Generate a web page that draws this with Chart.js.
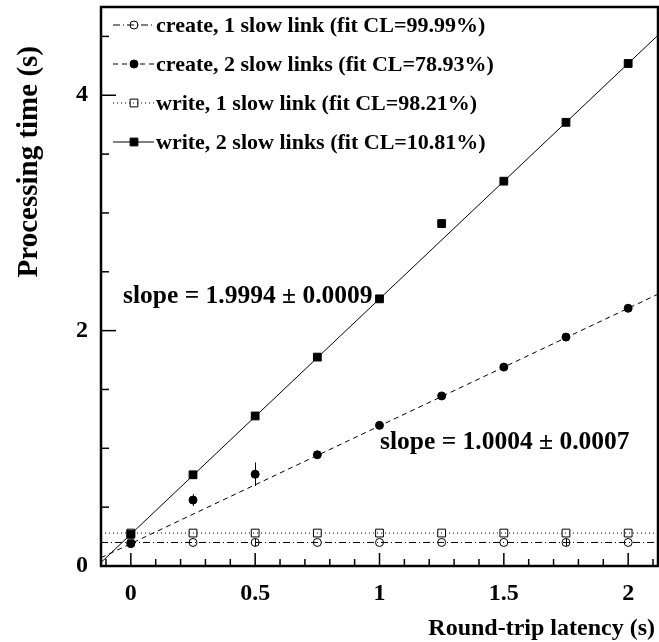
<!DOCTYPE html>
<html>
<head>
<meta charset="utf-8">
<script src="https://cdn.jsdelivr.net/npm/chart.js@4.4.0/dist/chart.umd.min.js"></script>
<style>
  html, body { margin: 0; padding: 0; background: #fff; }
  #wrap { width: 659px; height: 642px; }
</style>
</head>
<body>
<div id="wrap"><canvas id="c"></canvas></div>
<script>
// round-trip latency (s)
const latency = [0, 0.25, 0.5, 0.75, 1.0, 1.25, 1.5, 1.75, 2.0];

// processing time (s) for each setup
const create1 = [0.20, 0.20, 0.20, 0.20, 0.20, 0.20, 0.20, 0.20, 0.20];
const create2 = [0.19, 0.56, 0.78, 0.945, 1.195, 1.445, 1.69, 1.945, 2.19];
const write1  = [0.28, 0.28, 0.28, 0.28, 0.28, 0.28, 0.28, 0.28, 0.28];
const write2  = [0.27, 0.775, 1.275, 1.775, 2.27, 2.91, 3.27, 3.77, 4.27];

// error bars (half length, s)
const create1Err = [0, 0, 0.03, 0, 0, 0, 0, 0.03, 0];
const create2Err = [0, 0.05, 0.1, 0, 0, 0, 0, 0, 0];
const write1Err  = [0, 0, 0, 0, 0, 0, 0, 0, 0];
const write2Err  = [0, 0, 0, 0, 0, 0.04, 0, 0, 0];

// fit lines, end points
const fitX       = [-0.12, 2.12];
const fitCreate1 = [0.20, 0.20];
const fitCreate2 = [0.07, 2.31];
const fitWrite1  = [0.28, 0.28];
const fitWrite2  = [0.03, 4.51];

const legendLabels = [
  'create, 1 slow link (fit CL=99.99%)',
  'create, 2 slow links (fit CL=78.93%)',
  'write, 1 slow link (fit CL=98.21%)',
  'write, 2 slow links (fit CL=10.81%)'
];
const slopeTexts = ['slope = 1.9994 \u00b1 0.0009', 'slope = 1.0004 \u00b1 0.0007'];

const xTicks = [0, 0.5, 1, 1.5, 2];
const yTicks = [0, 2, 4];

const FONT = '"Liberation Serif", "Times New Roman", serif';

function pts(xs, ys) { return xs.map((x, i) => ({ x: x, y: ys[i] })); }

const dashes = {
  create1: [7, 3, 1, 3],
  create2: [5, 4],
  write1: [1, 3],
  write2: []
};

const errs = [create1Err, create2Err, write1Err, write2Err];

function marker(ctx, style, r, fill, x, y) {
  ctx.fillStyle = fill;
  ctx.strokeStyle = '#000';
  ctx.lineWidth = 1;
  ctx.beginPath();
  if (style === 'circle') {
    ctx.arc(x, y, r, 0, Math.PI * 2);
  } else {
    const s = r * Math.SQRT1_2;
    ctx.rect(x - s, y - s, 2 * s, 2 * s);
  }
  ctx.fill();
  ctx.stroke();
}

const overlay = {
  id: 'overlay',
  afterDatasetsDraw(chart) {
    const ctx = chart.ctx;
    const xs = chart.scales.x, ys = chart.scales.y;
    const a = chart.chartArea;
    ctx.save();
    // error bars
    ctx.strokeStyle = '#000';
    ctx.lineWidth = 1;
    [0, 1, 2, 3].forEach(d => {
      const data = chart.data.datasets[d].data;
      data.forEach((p, i) => {
        const e = errs[d][i];
        if (!e) return;
        const px = Math.round(xs.getPixelForValue(p.x)) + 0.5;
        ctx.beginPath();
        ctx.moveTo(px, ys.getPixelForValue(p.y - e));
        ctx.lineTo(px, ys.getPixelForValue(p.y + e));
        ctx.stroke();
      });
    });

    // frame
    ctx.lineWidth = 2.5;
    ctx.strokeRect(a.left, a.top, a.right - a.left, a.bottom - a.top);

    // ticks inside the frame
    ctx.lineWidth = 1.5;
    for (let v = -0.1; v <= 2.1001; v += 0.1) {
      const r = Math.round(v * 10) / 10;
      const major = Math.abs(r * 2 - Math.round(r * 2)) < 1e-6;
      const px = xs.getPixelForValue(r);
      ctx.beginPath();
      ctx.moveTo(px, a.bottom);
      ctx.lineTo(px, a.bottom - (major ? 13 : 7));
      ctx.stroke();
    }
    for (let v = 0; v <= 4.5001; v += 0.5) {
      const major = yTicks.includes(v);
      const py = ys.getPixelForValue(v);
      ctx.beginPath();
      ctx.moveTo(a.left, py);
      ctx.lineTo(a.left + (major ? 15 : 8), py);
      ctx.stroke();
    }

    // legend
    ctx.font = 'bold 22px ' + FONT;
    ctx.textBaseline = 'middle';
    ctx.textAlign = 'left';
    legendLabels.forEach((lab, i) => {
      const ds = chart.data.datasets[i];
      const ly = 25 + i * 39;
      ctx.save();
      ctx.strokeStyle = '#000';
      ctx.lineWidth = 1;
      ctx.setLineDash(ds.legendDash);
      ctx.beginPath();
      ctx.moveTo(113, ly);
      ctx.lineTo(154, ly);
      ctx.stroke();
      ctx.restore();
      marker(ctx, ds.pointStyle, ds.pointRadius, ds.backgroundColor, 134, ly);
      ctx.fillStyle = '#000';
      ctx.fillText(lab, 156, ly + 1);
    });

    // slope labels
    ctx.font = 'bold 25.5px ' + FONT;
    ctx.fillText(slopeTexts[0], 123, 296);
    ctx.fillText(slopeTexts[1], 380, 442);

    // axis titles
    ctx.font = 'bold 24px ' + FONT;
    ctx.textAlign = 'right';
    ctx.fillText('Round-trip latency (s)', 655, 629);
    ctx.font = 'bold 29px ' + FONT;
    ctx.translate(30, 46);
    ctx.rotate(-Math.PI / 2);
    ctx.fillText('Processing time (s)', 0, 0);
    ctx.restore();
  }
};

const markerBase = { showLine: false, borderColor: '#000', borderWidth: 1, order: 0 };
const lineBase = { showLine: true, pointRadius: 0, borderColor: '#000', borderWidth: 1, order: 1 };

function noPad(s) {
  s.paddingTop = 0; s.paddingBottom = 0; s.paddingLeft = 0; s.paddingRight = 0;
}

new Chart(document.getElementById('c'), {
  type: 'scatter',
  data: {
    datasets: [
      Object.assign({}, markerBase, { label: legendLabels[0], data: pts(latency, create1), pointStyle: 'circle', pointRadius: 4, backgroundColor: 'rgba(0,0,0,0)', legendDash: dashes.create1 }),
      Object.assign({}, markerBase, { label: legendLabels[1], data: pts(latency, create2), pointStyle: 'circle', pointRadius: 4, backgroundColor: '#000', legendDash: dashes.create2 }),
      Object.assign({}, markerBase, { label: legendLabels[2], data: pts(latency, write1), pointStyle: 'rect', pointRadius: 5.5, backgroundColor: 'rgba(0,0,0,0)', legendDash: dashes.write1 }),
      Object.assign({}, markerBase, { label: legendLabels[3], data: pts(latency, write2), pointStyle: 'rect', pointRadius: 5.5, backgroundColor: '#000', legendDash: dashes.write2 }),
      Object.assign({}, lineBase, { data: pts(fitX, fitCreate1), borderDash: dashes.create1 }),
      Object.assign({}, lineBase, { data: pts(fitX, fitCreate2), borderDash: dashes.create2 }),
      Object.assign({}, lineBase, { data: pts(fitX, fitWrite1), borderDash: dashes.write1 }),
      Object.assign({}, lineBase, { data: pts(fitX, fitWrite2), borderDash: dashes.write2 })
    ]
  },
  options: {
    responsive: true,
    maintainAspectRatio: false,
    animation: false,
    devicePixelRatio: 1,
    layout: { autoPadding: false, padding: { top: 7, right: 1, left: 0, bottom: 0 } },
    plugins: { legend: { display: false }, tooltip: { enabled: false } },
    scales: {
      x: {
        type: 'linear', min: -0.12, max: 2.12,
        grid: { display: false, drawTicks: false },
        border: { display: false },
        ticks: { padding: 13, color: '#000', font: { family: FONT, size: 24, weight: 'bold' }, callback: v => String(v) },
        afterBuildTicks: s => { s.ticks = xTicks.map(v => ({ value: v })); },
        afterFit: s => { s.height = 76; noPad(s); }
      },
      y: {
        type: 'linear', min: 0, max: 4.75,
        grid: { display: false, drawTicks: false },
        border: { display: false },
        ticks: { padding: 13, color: '#000', font: { family: FONT, size: 24, weight: 'bold' }, callback: v => String(v) },
        afterBuildTicks: s => { s.ticks = yTicks.map(v => ({ value: v })); },
        afterFit: s => { s.width = 101; noPad(s); }
      }
    }
  },
  plugins: [overlay]
});
</script>
</body>
</html>
